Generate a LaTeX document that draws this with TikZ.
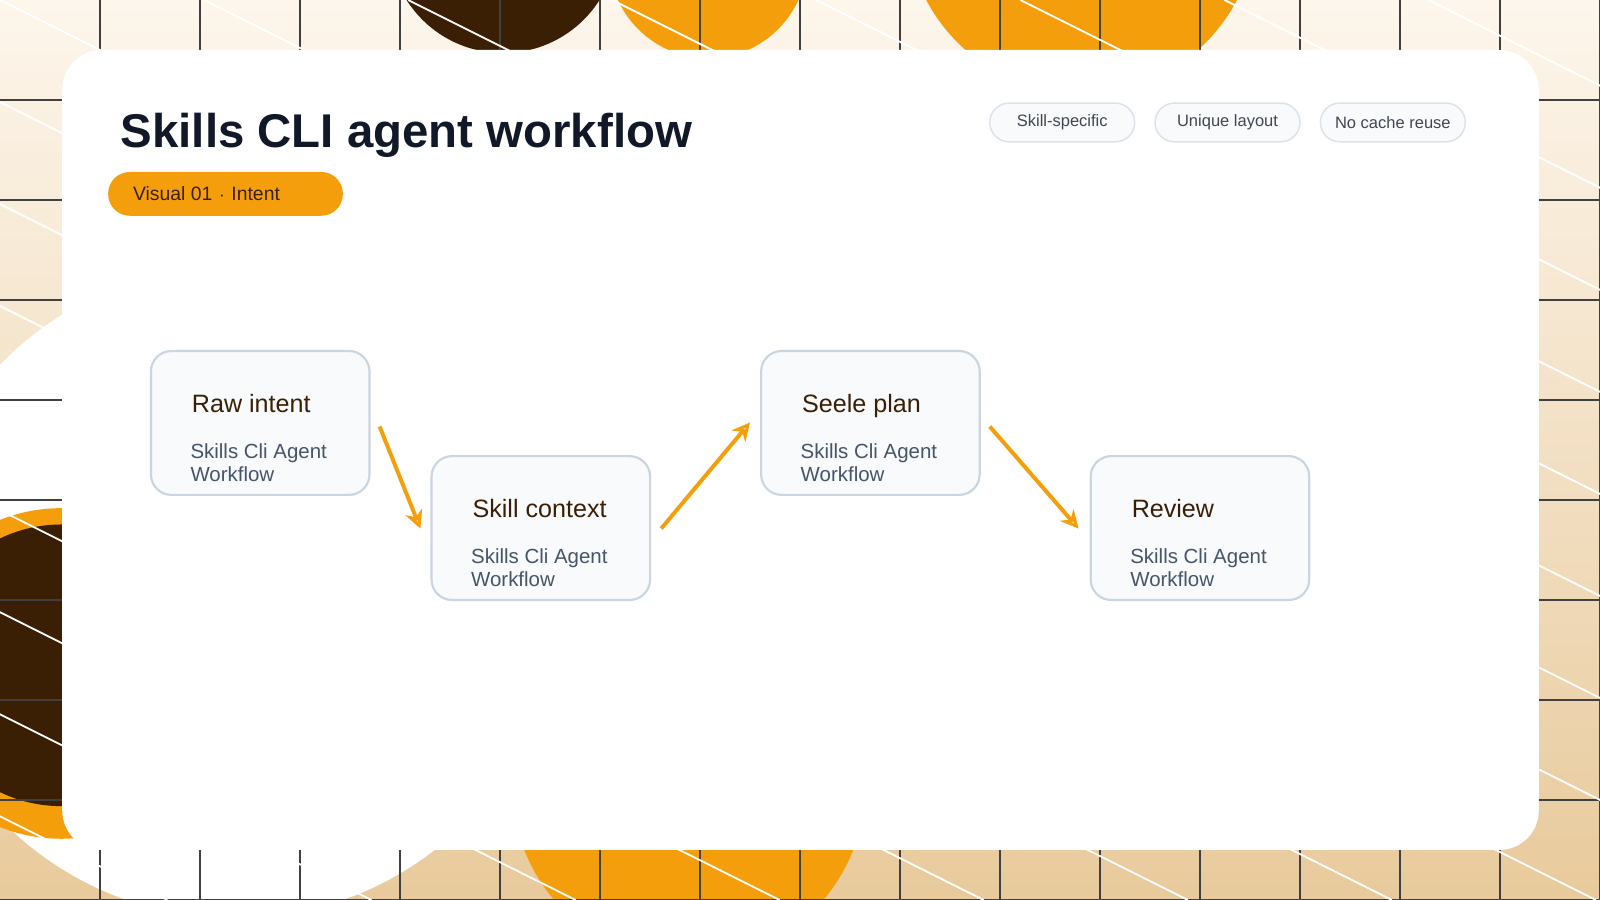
\documentclass[tikz,border=0pt]{standalone}
\usepackage{fontspec}
\setmainfont{Liberation Sans}
\usetikzlibrary{arrows.meta,positioning}
\definecolor{ink}{HTML}{111827}
\definecolor{amber}{HTML}{F59E0B}
\definecolor{cocoa}{HTML}{3B1F05}
\definecolor{slate}{HTML}{475569}
\definecolor{edge}{HTML}{CBD5E1}
\definecolor{boxbg}{HTML}{F8FAFC}
\definecolor{creamtop}{HTML}{FDF6EC}
\definecolor{tanlow}{HTML}{E8CA9C}
\begin{document}
\begin{tikzpicture}[x=0.01cm,y=-0.01cm,
       stage/.style={
         rectangle,
         draw=edge,
         fill=boxbg,
         line width=0.6pt,
         rounded corners=5.7pt,
         minimum width=60.9pt,
         minimum height=40.1pt,
         inner sep=0pt},
       heading/.style={anchor=base west, text=cocoa, font=\fontsize{7}{8}\selectfont},
       detail/.style={anchor=north west, text=slate, align=left,
         font=\fontsize{5.7}{6.3}\selectfont},
       chip/.style={rectangle, draw=edge!70, fill=boxbg, rounded corners=5.4pt,
         minimum width=40.4pt, minimum height=10.8pt, inner sep=0pt, text=ink!80,
         font=\fontsize{4.6}{5}\selectfont},
       flow/.style={-{Stealth[length=5pt,width=5pt,open]}, draw=amber, line width=1.1pt}
      ]
      \useasboundingbox (0,0) rectangle (1568,882);
      % backdrop
      \shade[top color=creamtop, bottom color=tanlow] (0,0) rectangle (1568,882);
      \begin{scope}
        \clip (0,0) rectangle (1568,882);
        \fill[cocoa] (493,-60) circle (112);
        \fill[amber] (694,-40) circle (97);
        \fill[amber] (1060,-80) circle (172);
        \fill[white] (230,580) circle (320);
        \fill[amber] (60,660) circle (162);
        \fill[cocoa] (60,652) circle (138);
        \fill[amber] (675,770) circle (173);
        \foreach \gx in {98,196,...,1568}
          \draw[black!75, line width=0.4pt] (\gx,0) -- (\gx,882);
        \foreach \gy in {98,196,...,882}
          \draw[black!75, line width=0.4pt] (0,\gy) -- (1568,\gy);
        \foreach \dx in {-1600,-1400,...,1600}
          \draw[white, line width=0.5pt] (\dx,0) -- ++(1764,882);
      \end{scope}
      % card
      \fill[white, rounded corners=11pt] (61,49) rectangle (1508,833);

      \node[anchor=base west, text=ink, font=\bfseries\fontsize{13.2}{15}\selectfont] (title) at (106,145) {Skills CLI agent workflow};
      \node[rectangle, fill=amber, rounded corners=6pt, minimum width=65.4pt, minimum height=12.2pt, inner sep=0pt] (badge) at (221,190) {};
      \node[anchor=west, text=cocoa, font=\fontsize{5.4}{6}\selectfont] (badgetext) at (118,190) {Visual 01 $\cdot$ Intent};

      \node[chip] (C1) at (1041,120) {Skill-specific};
      \node[chip] (C2) at (1203,120) {Unique layout};
      \node[chip] (C3) at (1365,120) {No cache reuse};

      \node[stage] (raw) at (255,414.5) {};
      \node[stage] (ctx) at (530,517.5) {};
      \node[stage] (plan) at (853,414.5) {};
      \node[stage] (rev) at (1176,517.5) {};

      \foreach \s/\t in {raw/Raw intent, ctx/Skill context, plan/Seele plan, rev/Review}{
        \node[heading] at ([xshift=8.2pt,yshift=-17.4pt]\s.north west) {\t};
        \node[detail] at ([xshift=7.8pt,yshift=-22.6pt]\s.north west) {Skills Cli Agent\\Workflow};
      }

      \coordinate (a1) at (372,418);
      \coordinate (a2) at (412,518);
      \coordinate (b1) at (648,518);
      \coordinate (b2) at (735,414);
      \coordinate (c1) at (970,418);
      \coordinate (c2) at (1057,518);
      \draw[flow] (a1) -- (a2);
      \draw[flow] (b1) -- (b2);
      \draw[flow] (c1) -- (c2);
\end{tikzpicture}
\end{document}
